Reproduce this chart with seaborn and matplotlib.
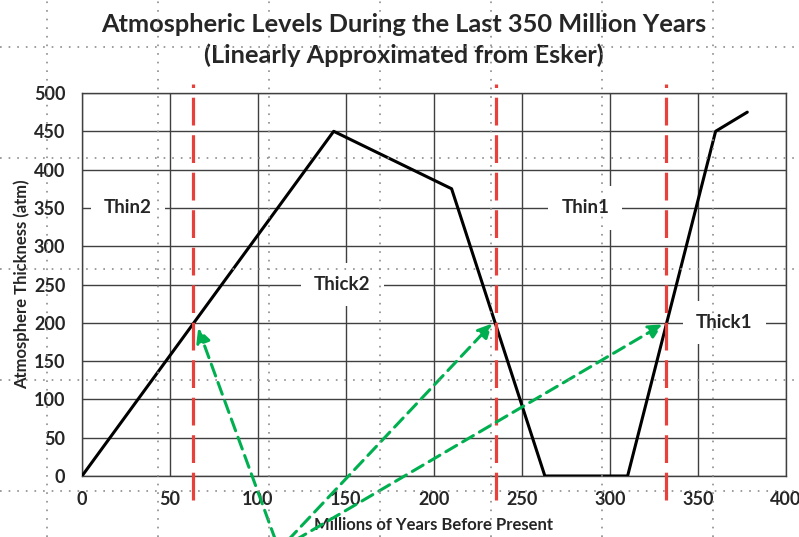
"""Atmospheric thickness over the last 350 million years, linear approximation."""

import matplotlib

matplotlib.use("Agg")
import matplotlib.pyplot as plt
import numpy as np
import seaborn as sns

# black trace
years = [0, 143, 210, 263, 310, 360, 378]
thickness = [0, 450, 375, 0, 0, 450, 475]

# red dashed boundaries (where the trace crosses 200 atm)
boundary_years = [63, 235, 332]

# region labels
region_names = ["Thin2", "Thick2", "Thin1", "Thick1"]
region_x = [26, 148, 286, 365]
region_y = [350, 250, 350, 200]

# green arrows, tail below the axis, tip at a crossing
arrow_tip_x = [66, 233, 330]
arrow_tip_y = [193, 199, 198]
arrow_tail_x = [110, 117, 121]
arrow_tail_y = [-84, -84, -84]

x_ticks = [0, 50, 100, 150, 200, 250, 300, 350, 400]
y_ticks = [0, 50, 100, 150, 200, 250, 300, 350, 400, 450, 500]

TITLE = "Atmospheric Levels During the Last 350 Million Years\n(Linearly Approximated from Esker)"
GRID_COLOR = "#404040"
RED = "#e8403a"
GREEN = "#00b050"
W, H = 799, 537


def main() -> None:
    sns.set_theme(style="white")
    plt.rcParams["font.family"] = ["Lato", "DejaVu Sans"]
    plt.rcParams["font.weight"] = "bold"
    plt.rcParams["lines.scale_dashes"] = False

    fig = plt.figure(figsize=(W / 100, H / 100), dpi=100)
    fig.patch.set_facecolor("white")
    ax = fig.add_axes([82 / W, 1 - 476 / H, (786 - 82) / W, (476 - 93) / H])
    ax.patch.set_alpha(0)

    sns.lineplot(x=years, y=thickness, ax=ax, color="black", linewidth=2.2,
                 estimator=None, sort=False, zorder=4)

    ax.set_xlim(0, 400)
    ax.set_ylim(0, 500)
    ax.set_xticks(x_ticks)
    ax.set_yticks(y_ticks)
    ax.tick_params(length=0, labelsize=13)
    ax.tick_params(axis="x", pad=11)
    ax.tick_params(axis="y", pad=12)
    for label in ax.get_xticklabels() + ax.get_yticklabels():
        label.set_fontweight("bold")
    ax.set_axisbelow(True)
    ax.grid(True, color=GRID_COLOR, linewidth=1.0)
    for spine in ax.spines.values():
        spine.set_visible(True)
        spine.set_color(GRID_COLOR)
        spine.set_linewidth(1.0)

    ax.set_xlabel("Millions of Years Before Present", fontsize=12, fontweight="bold", labelpad=6)
    ax.set_ylabel("Atmosphere Thickness (atm)", fontsize=12, fontweight="bold", labelpad=3)

    for name, x, y in zip(region_names, region_x, region_y):
        ax.text(x, y, name, ha="center", va="center", fontsize=13.5, fontweight="bold",
                zorder=3, bbox=dict(boxstyle="square,pad=0.7", facecolor="white", edgecolor="none"))

    for x in boundary_years:
        ax.plot([x, x], [-31, 512], color=RED, linewidth=2.3, linestyle=(0, (20, 7)),
                clip_on=False, zorder=5)

    for tx, ty, sx, sy in zip(arrow_tip_x, arrow_tip_y, arrow_tail_x, arrow_tail_y):
        ax.annotate("", xy=(tx, ty), xytext=(sx, sy), annotation_clip=False, zorder=6,
                    arrowprops=dict(arrowstyle="-|>,head_length=0.7,head_width=0.35",
                                    color=GREEN, linewidth=2.2, linestyle=(0, (9, 5)),
                                    shrinkA=0, shrinkB=0, mutation_scale=12))

    fig.text(404 / W, 1 - 40 / H, TITLE, ha="center", va="center", fontsize=18.3,
             fontweight="bold", linespacing=1.35)

    # dotted worksheet grid showing through the chart
    page = fig.add_axes([0, 0, 1, 1], zorder=10)
    page.patch.set_alpha(0)
    page.axis("off")
    page.set_xlim(0, W)
    page.set_ylim(H, 0)
    for px in np.arange(47, W, 111):
        page.axvline(px, color="#8c8c8c", linewidth=1.2, linestyle=(0, (1.2, 5)))
    for py in np.arange(47, H, 111):
        page.axhline(py, color="#8c8c8c", linewidth=1.2, linestyle=(0, (1.2, 5)))

    fig.savefig("out.png", dpi=100)
    plt.close(fig)


if __name__ == "__main__":
    main()
